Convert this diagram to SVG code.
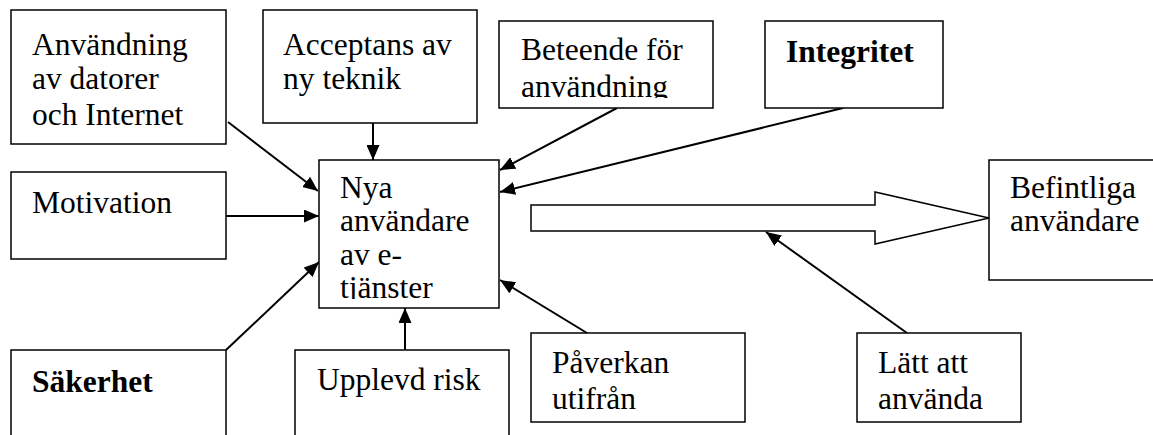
<svg xmlns="http://www.w3.org/2000/svg" width="1153" height="435" viewBox="0 0 1153 435">
<style>
.box{fill:#fff;stroke:#000;stroke-width:1.5}
.t{font-family:"Liberation Serif","Times New Roman",serif;font-size:31.5px;fill:#000}
.b{font-weight:bold}
.c{stroke:#000;stroke-width:2;fill:none;marker-end:url(#ah)}
</style>
<defs>
<marker id="ah" markerUnits="userSpaceOnUse" markerWidth="15" markerHeight="13" refX="15" refY="6.5" orient="auto">
<path d="M0,0 L15,6.5 L0,13 z" fill="#000"/>
</marker>
<clipPath id="clipBet"><rect x="499" y="21" width="214" height="77"/></clipPath>
<clipPath id="clipNya"><rect x="319" y="160" width="180" height="139"/></clipPath>
</defs>
<rect width="1153" height="435" fill="#fff"/>

<g id="connectors">
<line class="c" x1="228" y1="122" x2="318" y2="191"/>
<line class="c" x1="373" y1="123" x2="373" y2="160"/>
<line class="c" x1="617" y1="108" x2="500" y2="170"/>
<line class="c" x1="843" y1="108" x2="500" y2="192"/>
<line class="c" x1="226" y1="216" x2="319" y2="216"/>
<line class="c" x1="226" y1="350" x2="319" y2="262"/>
<line class="c" x1="405" y1="350" x2="405" y2="308"/>
<line class="c" x1="587" y1="333" x2="500" y2="280"/>
<line class="c" x1="907" y1="333" x2="766" y2="232"/>
</g>

<g id="n-anvandning">
<rect class="box" x="11" y="10" width="215" height="134"/>
<text class="t" x="32" y="55">Användning</text>
<text class="t" x="32" y="89">av datorer</text>
<text class="t" x="32" y="125">och Internet</text>
</g>

<g id="n-acceptans">
<rect class="box" x="263" y="10" width="214" height="113"/>
<text class="t" x="283" y="55">Acceptans av</text>
<text class="t" x="283" y="89">ny teknik</text>
</g>

<g id="n-beteende">
<rect class="box" x="499" y="21" width="214" height="87"/>
<g clip-path="url(#clipBet)">
<text class="t" x="521" y="60">Beteende för</text>
<text class="t" x="521" y="97">användning</text>
</g>
</g>

<g id="n-integritet">
<rect class="box" x="765" y="21" width="178" height="87"/>
<text class="t b" x="786" y="62">Integritet</text>
</g>

<g id="n-motivation">
<rect class="box" x="11" y="172" width="215" height="87"/>
<text class="t" x="32" y="213">Motivation</text>
</g>

<g id="n-nya">
<rect class="box" x="319" y="160" width="180" height="148"/>
<g clip-path="url(#clipNya)">
<text class="t" x="340" y="198">Nya</text>
<text class="t" x="340" y="231">användare</text>
<text class="t" x="340" y="265">av e-</text>
<text class="t" x="340" y="298">tjänster</text>
</g>
</g>

<g id="n-sakerhet">
<rect class="box" x="11" y="350" width="215" height="100"/>
<text class="t b" x="32" y="392">Säkerhet</text>
</g>

<g id="n-upplevd">
<rect class="box" x="295" y="350" width="214" height="100"/>
<text class="t" x="317" y="390">Upplevd risk</text>
</g>

<g id="n-paverkan">
<rect class="box" x="531" y="333" width="214" height="89"/>
<text class="t" x="552" y="373">Påverkan</text>
<text class="t" x="552" y="409">utifrån</text>
</g>

<g id="n-latt">
<rect class="box" x="857" y="333" width="164" height="89"/>
<text class="t" x="878" y="373">Lätt att</text>
<text class="t" x="878" y="409">använda</text>
</g>

<g id="big-arrow">
<polygon class="box" points="531,205 875,205 875,192 989,218 875,244 875,231 531,231"/>
</g>

<g id="n-befintliga">
<rect class="box" x="989" y="160" width="180" height="120"/>
<text class="t" x="1010" y="198">Befintliga</text>
<text class="t" x="1010" y="231">användare</text>
</g>
</svg>
